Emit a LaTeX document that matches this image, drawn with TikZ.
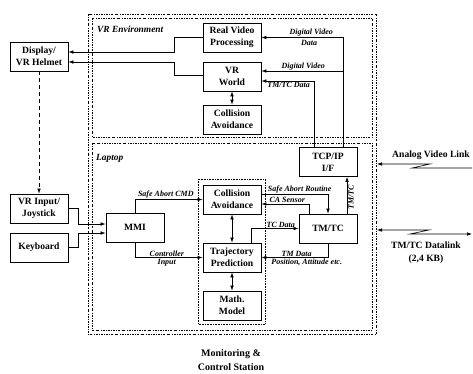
\documentclass[tikz,border=0pt]{standalone}
\usepackage{fontspec}
\setmainfont{Liberation Serif}
\usetikzlibrary{arrows.meta,calc}
\begin{document}
\begin{tikzpicture}[x=1pt,y=-1pt,
  box/.style={draw,line width=0.8pt,minimum width=58pt,minimum height=29pt,inner sep=0pt,align=center,
    font=\fontsize{9.6}{12}\selectfont\bfseries},
  lbl/.style={font=\fontsize{8}{10}\selectfont\bfseries\itshape,inner sep=1pt,align=center},
  big/.style={font=\fontsize{9.6}{13}\selectfont\bfseries,inner sep=0pt,align=center},
  ttl/.style={font=\fontsize{9.4}{12}\selectfont\bfseries\itshape,inner sep=0pt,anchor=west},
  arr/.style={line width=0.6pt,-{Latex[length=5pt,width=3.6pt]}},
  darr/.style={line width=0.6pt,{Latex[length=5pt,width=3.6pt]}-{Latex[length=5pt,width=3.6pt]}},
  dashdot/.style={line width=0.5pt,dash pattern=on 2pt off 1.3pt on 0.6pt off 1.3pt},
  dotbox/.style={line width=0.6pt,dash pattern=on 0.6pt off 1pt}]
\useasboundingbox (0,0) rectangle (473,373);

% container boxes
\draw[dashdot] (88,14) rectangle (376,334);
\draw[dashdot] (92,18) rectangle (372,137);
\draw[dashdot] (92,143) rectangle (372,330);
\draw[dotbox] (198,179) rectangle (265,324);
\node[ttl] (tvr) at (97,29) {VR Environment};
\node[ttl] (tlap) at (96,158) {Laptop};

% nodes
\node[box] (disp) at (39,56.5) {Display/\\VR Helmet};
\node[box] (rvp) at (232,37.5) {Real Video\\Processing};
\node[box] (vrw) at (232,76.5) {VR\\World};
\node[box] (ca1) at (232,119.5) {Collision\\Avoidance};
\node[box] (tcp) at (328,162) {TCP/IP\\I/F};
\node[box] (vri) at (39,208.5) {VR Input/\\Joystick};
\node[box] (kbd) at (39,247.5) {Keyboard};
\node[box] (mmi) at (135,227.5) {MMI};
\node[box] (ca2) at (232,199.5) {Collision\\Avoidance};
\node[box] (tp) at (232,257.5) {Trajectory\\Prediction};
\node[box] (math) at (232,305.5) {Math.\\Model};
\node[box] (tmtc) at (328,228.5) {TM/TC};

% VR environment connectors
\draw[arr] (tcp.north -| 343,0) |- (rvp.east)
  node[lbl,pos=0.75,above,xshift=9pt] (ldv1) {Digital Video}
  node[lbl,pos=0.75,below,xshift=7pt,yshift=-1pt] (ldata) {Data};
\coordinate (j1) at (343,71);
\draw[arr] (j1) -- (j1 -| vrw.east) node[lbl,midway,above,xshift=1pt] (ldv2) {Digital Video};
\draw[arr] (tcp.north -| 314,0) |- (vrw.east |- 0,81)
  node[lbl,pos=0.75,below,xshift=1pt] (ltm) {TM/TC Data};
\draw[arr] (rvp.west) -| (174,52) -- (disp.east |- 0,52);
\draw[arr] (vrw.west |- 0,75) -| (174,62) -- (disp.east |- 0,62);
\draw[darr] (vrw) -- (ca1);
\draw[arr,dash pattern=on 4pt off 3pt] (disp) -- (vri);

% inputs
\draw[arr] (vri.east) -| (78,224) -- (mmi.west |- 0,224);
\draw[arr] (kbd.east) -| (78,233) -- (mmi.west |- 0,233);
\draw[arr] (mmi.north) |- (ca2.west)
  node[lbl,pos=0.75,above,xshift=-3pt] (lsac) {Safe Abort CMD};
\draw[arr] (mmi.south) |- (tp.west)
  node[lbl,pos=0.75,above,xshift=-2pt] (lci1) {Controller}
  node[lbl,pos=0.75,below,xshift=-2pt] (lci2) {Input};
\draw[darr] (ca2) -- (tp);
\draw[darr] (tp) -- (math);

% TM/TC connectors
\draw[arr] (ca2.east |- 0,194) -| (tmtc.north)
  node[lbl,pos=0.25,above,xshift=5pt] (lsar) {Safe Abort Routine};
\draw[arr] (tmtc.north -| 309,0) |- (ca2.east |- 0,204)
  node[lbl,pos=0.75,above,xshift=2pt] (lcas) {CA Sensor};
\draw[arr] (tp.north -| 251,0) |- (tmtc.west)
  node[lbl,pos=0.75,above,xshift=6pt] (ltc) {TC Data};
\draw[arr] (tmtc.south) |- (tp.east)
  node[lbl,pos=0.75,above,xshift=2pt] (ltmd) {TM Data}
  node[lbl,pos=0.75,below,xshift=12pt] (lpos) {Position, Attitude etc.};
\draw[arr] (tmtc.north -| 347,0) -- (tcp.south -| 347,0)
  node[lbl,midway,rotate=90,below,xshift=-2pt] (ltmtc) {TM/TC};

% external links
\coordinate (avR) at (472,168);
\coordinate (avL) at (377,164);
\draw[arr] (avR) -- (412,168) -- (430,164) -- (avL);
\node[big] (lav) at (431,155) {Analog Video Link};
\coordinate (dlL) at (377,230);
\coordinate (dlR) at (472,234);
\draw[darr] (dlL) -- (429,230) -- (410,234) -- (dlR);
\node[big] (ldl) at (426,253) {TM/TC Datalink\\(2,4 KB)};

\node[big,font=\fontsize{10}{14}\selectfont\bfseries] (lmcs) at (231,360) {Monitoring \&\\Control Station};
\end{tikzpicture}
\end{document}
